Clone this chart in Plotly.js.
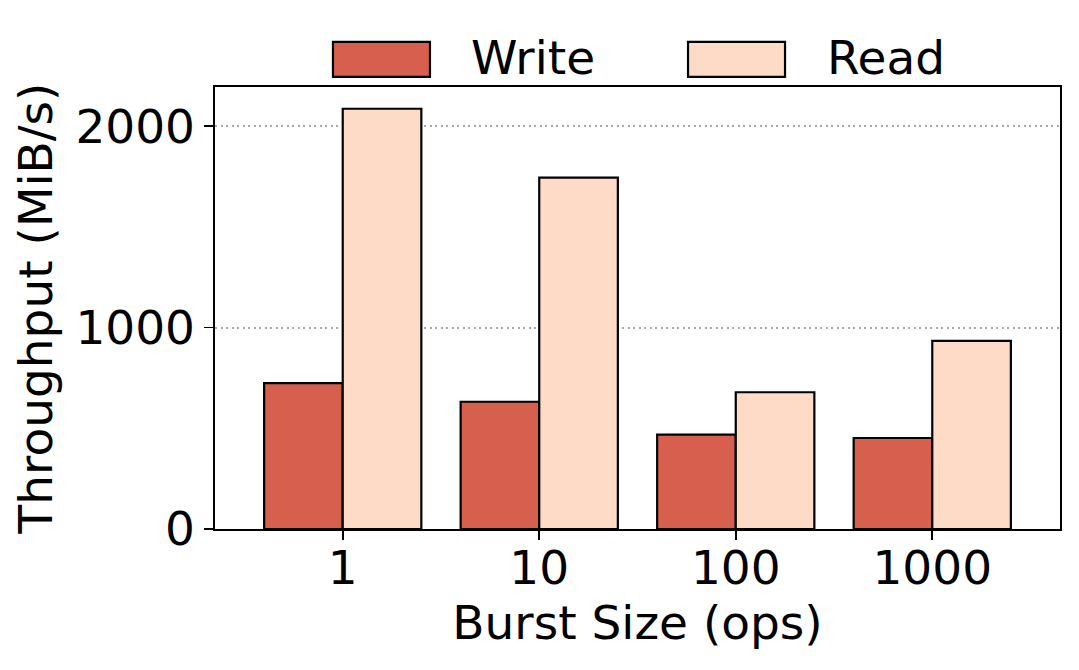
<!DOCTYPE html>
<html>
<head>
<meta charset="utf-8">
<script src="https://cdn.plot.ly/plotly-3.0.1.min.js"></script>
<style>
  html, body { margin: 0; padding: 0; background: #fff; }
  #chart { width: 1079px; height: 670px; }
</style>
</head>
<body>
<div id="chart"></div>
<script>
const burstSizes = ['1', '10', '100', '1000'];
const writeMiBs  = [724, 632, 469, 452];
const readMiBs   = [2087, 1745, 679, 934];
const yTicks     = [0, 1000, 2000];

const WRITE_COLOR = '#d6604d';
const READ_COLOR  = '#fddbc7';
const FONT = 'DejaVu Sans, sans-serif';
const FS = 47;

const edge = { color: '#000', width: 2.2 };

const traces = [
    {
        x: burstSizes, y: writeMiBs,
        type: 'bar', name: 'Write',
        marker: { color: WRITE_COLOR, line: edge },
        hoverinfo: 'skip'
    },
    {
        x: burstSizes, y: readMiBs,
        type: 'bar', name: 'Read',
        marker: { color: READ_COLOR, line: edge },
        hoverinfo: 'skip'
    }
];

// legend drawn by hand so the patches can be matplotlib-sized
function legendPatch(x0, x1, color) {
    return {
        type: 'rect', xref: 'paper', yref: 'paper',
        x0: x0, x1: x1, y0: 1.023, y1: 1.102,
        fillcolor: color, line: { color: '#000', width: 2.2 }
    };
}
function legendText(x, text) {
    return {
        xref: 'paper', yref: 'paper', x: x, y: 1.066,
        xanchor: 'left', yanchor: 'middle', showarrow: false,
        text: text, font: { family: FONT, size: FS, color: '#000' }
    };
}

const layout = {
    width: 1079, height: 670,
    margin: { l: 215, r: 19, t: 87, b: 141 },
    paper_bgcolor: '#fff', plot_bgcolor: '#fff',
    font: { family: FONT, size: FS, color: '#000' },
    barmode: 'group', bargap: 0.2, bargroupgap: 0,
    showlegend: false,
    xaxis: {
        type: 'category',
        range: [-0.65, 3.65],
        showline: true, linecolor: '#000', linewidth: 1.6, mirror: true,
        ticks: 'outside', ticklen: 9, tickwidth: 1.6, tickcolor: '#000',
        ticklabelstandoff: -12,
        showgrid: false, zeroline: false,
        tickfont: { family: FONT, size: FS },
        title: { text: 'Burst Size (ops)', font: { family: FONT, size: FS }, standoff: 4 }
    },
    yaxis: {
        range: [0, 2195],
        tickvals: yTicks,
        showline: true, linecolor: '#000', linewidth: 1.6, mirror: true,
        ticks: 'outside', ticklen: 9, tickwidth: 1.6, tickcolor: '#000',
        showgrid: true, gridcolor: '#a8a8a8', gridwidth: 2, griddash: '2px,3.5px',
        zeroline: false,
        tickfont: { family: FONT, size: FS },
        title: { text: 'Throughput (MiB/s)', font: { family: FONT, size: FS }, standoff: 8 }
    },
    shapes: [
        legendPatch(0.1396, 0.2544, WRITE_COLOR),
        legendPatch(0.5598, 0.6746, READ_COLOR)
    ],
    annotations: [
        legendText(0.3006, 'Write'),
        legendText(0.7219, 'Read')
    ]
};

Plotly.newPlot('chart', traces, layout, { displayModeBar: false, staticPlot: true });
</script>
</body>
</html>
